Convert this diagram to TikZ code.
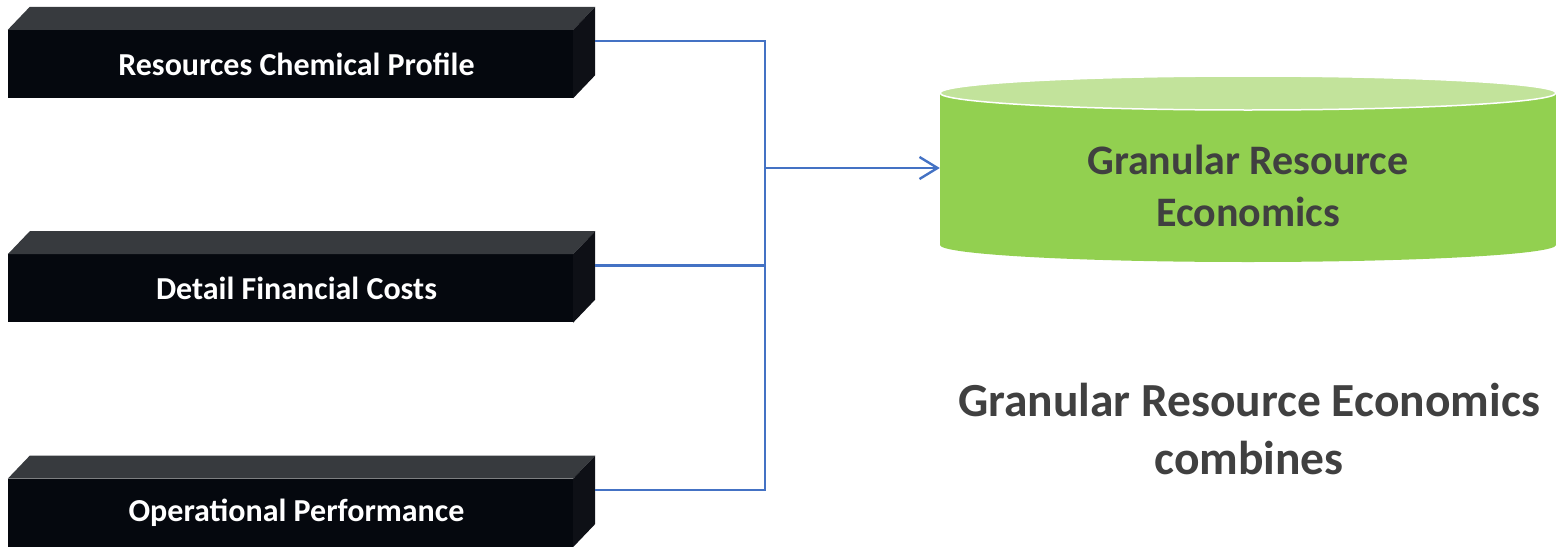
\documentclass[tikz,border=0pt]{standalone}
\usepackage{fontspec}
\setmainfont{Carlito}
\usetikzlibrary{arrows.meta, positioning, calc}
\definecolor{boxfront}{RGB}{5, 8, 14}
\definecolor{boxtop}{RGB}{55, 58, 62}
\definecolor{boxside}{RGB}{14, 16, 22}
\definecolor{linkblue}{RGB}{68, 114, 196}
\definecolor{drumgreen}{RGB}{146, 208, 80}
\definecolor{drumtop}{RGB}{194, 227, 155}
\definecolor{textgray}{RGB}{64, 64, 64}

\begin{document}
\begin{tikzpicture}[
  x=1pt, y=-1pt,
  node distance=156pt,
  block/.style={rectangle, fill=boxfront, inner sep=0pt, text=white,
                minimum width=565pt, minimum height=68pt,
                font=\fontsize{32}{38}\selectfont\bfseries},
  drumtext/.style={text=textgray, align=center, inner sep=0pt,
                   minimum width=616pt, minimum height=152pt,
                   font=\fontsize{42}{52}\selectfont\bfseries},
  note/.style={text=textgray, align=center, inner sep=0pt,
               font=\fontsize{47.5}{58}\selectfont\bfseries},
  link/.style={draw=linkblue, line width=2.4pt}
]
  \useasboundingbox (0,0) rectangle (1557,546);

  % input blocks
  \node[block] (chem) at (290.5,64) {\hspace{12pt}Resources Chemical Profile};
  \node[block, below=of chem] (cost) {\hspace{12pt}Detail Financial Costs};
  \node[block, below=of cost] (oper) {\hspace{12pt}Operational Performance};

  \foreach \b in {chem,cost,oper} {
    \fill[boxtop] (\b.north west) -- ++(22,-23) -- ($(\b.north east)+(22,-23)$)
      -- (\b.north east) -- cycle;
    \fill[boxside] (\b.north east) -- ++(22,-23) -- ($(\b.south east)+(22,-23)$)
      -- (\b.south east) -- cycle;
    \coordinate (\b-out) at ($(\b.east)+(22,-23)$);
  }

  % drum
  \fill[drumgreen] (940,93) rectangle (1556,245);
  \fill[drumgreen] (1248,245) ellipse [x radius=308, y radius=17];
  \filldraw[fill=drumtop, draw=white, line width=1.5pt] (1248,93) ellipse [x radius=308, y radius=17];
  \node[drumtext] (store) at (1248,186) {Granular Resource\\Economics};

  \node[note] (caption) at (1249,429) {Granular Resource Economics\\combines};

  % connectors
  \coordinate (joint) at (765,168);
  \draw[link] (chem-out) -| (oper-out -| joint) -- (oper-out);
  \draw[link] (cost-out) -- (cost-out -| joint);
  \draw[link, -{Straight Barb[length=18pt, width=22pt, line width=2.4pt]}]
    (joint) -- (joint -| store.west);
\end{tikzpicture}
\end{document}
